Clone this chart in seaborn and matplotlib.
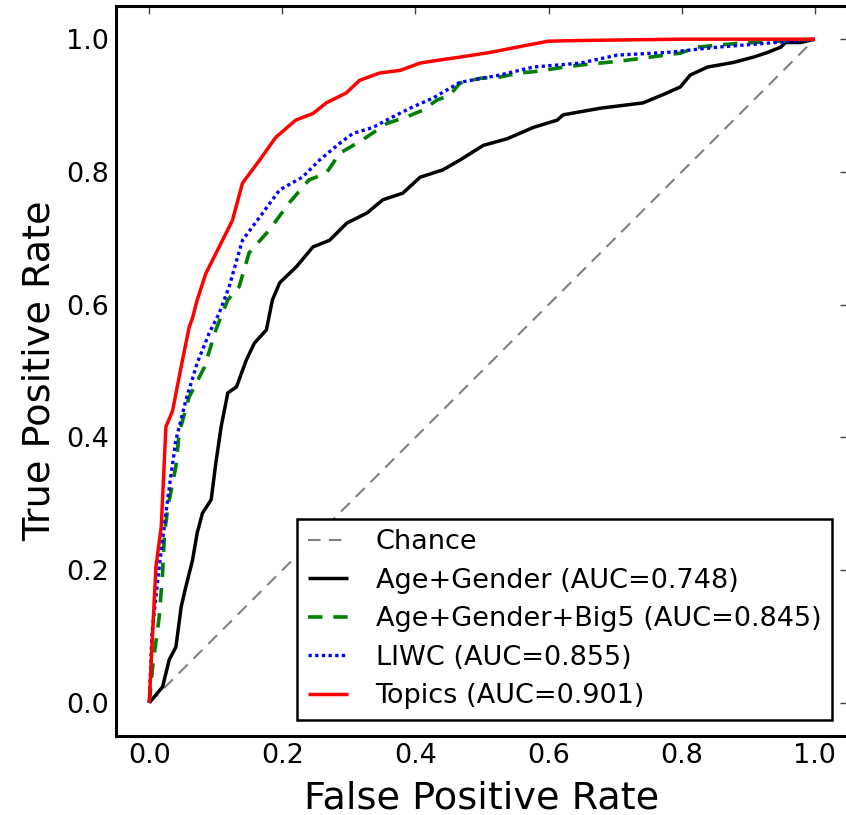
import matplotlib
matplotlib.use("Agg")
import matplotlib.pyplot as plt
import seaborn as sns
import pandas as pd

# ---- data ----
chance_x = [0.0, 1.0]
chance_y = [0.0, 1.0]

ag_x = [0, 0.02, 0.03, 0.04, 0.048, 0.055, 0.065, 0.072, 0.08, 0.093, 0.1, 0.108, 0.118, 0.131,
        0.146, 0.158, 0.176, 0.185, 0.196, 0.221, 0.246, 0.271, 0.297, 0.327, 0.351, 0.381, 0.407,
        0.441, 0.467, 0.502, 0.538, 0.577, 0.613, 0.622, 0.678, 0.742, 0.771, 0.798, 0.813, 0.839,
        0.878, 0.908, 0.929, 0.949, 0.956, 0.979, 1.0]
ag_y = [0, 0.024, 0.065, 0.084, 0.145, 0.175, 0.215, 0.256, 0.286, 0.306, 0.361, 0.416, 0.467, 0.476,
        0.517, 0.542, 0.562, 0.607, 0.633, 0.657, 0.687, 0.697, 0.723, 0.738, 0.758, 0.768, 0.792,
        0.803, 0.818, 0.84, 0.85, 0.867, 0.878, 0.886, 0.896, 0.904, 0.916, 0.928, 0.946, 0.958,
        0.965, 0.973, 0.98, 0.988, 0.995, 0.995, 1.0]

big5_x = [0, 0.005, 0.015, 0.02, 0.023, 0.028, 0.04, 0.045, 0.06, 0.083, 0.1, 0.118, 0.135, 0.15,
          0.18, 0.21, 0.24, 0.266, 0.286, 0.32, 0.357, 0.387, 0.411, 0.432, 0.452, 0.467, 0.497,
          0.527, 0.557, 0.587, 0.617, 0.648, 0.678, 0.708, 0.738, 0.798, 0.824, 0.854, 0.889,
          0.929, 1.0]
big5_y = [0, 0.054, 0.13, 0.196, 0.256, 0.295, 0.356, 0.407, 0.461, 0.506, 0.562, 0.607, 0.627, 0.678,
          0.712, 0.753, 0.788, 0.798, 0.828, 0.848, 0.873, 0.883, 0.893, 0.908, 0.916, 0.934, 0.941,
          0.943, 0.949, 0.952, 0.957, 0.961, 0.964, 0.967, 0.971, 0.979, 0.988, 0.991, 0.994,
          0.996, 1.0]

liwc_x = [0, 0.002, 0.004, 0.015, 0.025, 0.033, 0.04, 0.055, 0.072, 0.09, 0.105, 0.12, 0.14, 0.166,
          0.196, 0.23, 0.256, 0.286, 0.306, 0.336, 0.366, 0.396, 0.426, 0.467, 0.527, 0.577, 0.648,
          0.703, 0.778, 0.854, 0.929, 1.0]
liwc_y = [0, 0.05, 0.105, 0.205, 0.286, 0.346, 0.396, 0.456, 0.512, 0.557, 0.587, 0.627, 0.697, 0.732,
          0.773, 0.792, 0.818, 0.843, 0.858, 0.867, 0.883, 0.898, 0.911, 0.935, 0.946, 0.958, 0.964,
          0.976, 0.98, 0.988, 0.994, 1.0]

topics_x = [0, 0.005, 0.01, 0.018, 0.021, 0.025, 0.035, 0.05, 0.06, 0.065, 0.072, 0.085, 0.105, 0.125,
            0.14, 0.166, 0.19, 0.22, 0.246, 0.266, 0.296, 0.316, 0.346, 0.377, 0.407, 0.432, 0.467,
            0.512, 0.568, 0.6, 0.648, 0.8, 1.0]
topics_y = [0, 0.105, 0.205, 0.265, 0.33, 0.416, 0.44, 0.517, 0.566, 0.58, 0.607, 0.647, 0.687, 0.727,
            0.783, 0.818, 0.852, 0.878, 0.888, 0.904, 0.919, 0.938, 0.949, 0.953, 0.964, 0.968, 0.973,
            0.98, 0.991, 0.997, 0.998, 1.0, 1.0]

labels = ["Chance", "Age+Gender (AUC=0.748)", "Age+Gender+Big5 (AUC=0.845)",
          "LIWC (AUC=0.855)", "Topics (AUC=0.901)"]
x_ticks = [0.0, 0.2, 0.4, 0.6, 0.8, 1.0]
y_ticks = [0.0, 0.2, 0.4, 0.6, 0.8, 1.0]
x_title = "False Positive Rate"
y_title = "True Positive Rate"

# ---- styling ----
sns.set_style("white")
plt.rcParams["font.family"] = ["DejaVu Sans"]
plt.rcParams["text.color"] = "black"
plt.rcParams["axes.labelcolor"] = "black"
plt.rcParams["xtick.color"] = "black"
plt.rcParams["ytick.color"] = "black"
plt.rcParams["lines.solid_capstyle"] = "butt"

W, H = 846, 815
fig = plt.figure(figsize=(W / 100, H / 100), dpi=100)
ax = fig.add_axes([116 / W, 79 / H, 732 / W, 730 / H])

series = [
    (chance_x, chance_y, labels[0], "#808080", (0, (6, 4)), 1.5),
    (ag_x, ag_y, labels[1], "black", "-", 2.5),
    (big5_x, big5_y, labels[2], "green", (0, (4, 3)), 2.6),
    (liwc_x, liwc_y, labels[3], "blue", (0, (1, 1)), 2.4),
    (topics_x, topics_y, labels[4], "red", "-", 2.5),
]
for xs, ys, lab, col, ls, lw in series:
    df = pd.DataFrame({"x": xs, "y": ys})
    sns.lineplot(data=df, x="x", y="y", ax=ax, sort=False, estimator=None,
                 color=col, linestyle=ls, linewidth=lw, label=lab)

ax.set_xlim(-0.05, 1.05)
ax.set_ylim(-0.05, 1.05)
ax.set_xticks(x_ticks)
ax.set_yticks(y_ticks)
ax.set_xticklabels([f"{v:.1f}" for v in x_ticks])
ax.set_yticklabels([f"{v:.1f}" for v in y_ticks])
ax.tick_params(direction="in", length=6, width=1, color="#444444", labelcolor="black",
               labelsize=19.5, top=True, right=True, pad=5)
ax.set_xlabel(x_title, fontsize=27.5, labelpad=8)
ax.set_ylabel(y_title, fontsize=27.5, labelpad=6)
for s in ax.spines.values():
    s.set_visible(True)
    s.set_color("black")
    s.set_linewidth(2.2)

leg = ax.legend(loc="lower right", fontsize=19.5, frameon=True, fancybox=False,
                bbox_to_anchor=(832 / W * W / 732 - 116 / 732, (815 - 720 - 79) / 730),
                borderaxespad=0.0, handlelength=1.5, handletextpad=1.0,
                labelspacing=0.46, borderpad=0.4)
leg.get_frame().set_edgecolor("black")
leg.get_frame().set_linewidth(1.8)
leg.get_frame().set_alpha(1)

fig.savefig("out.png", dpi=100)
